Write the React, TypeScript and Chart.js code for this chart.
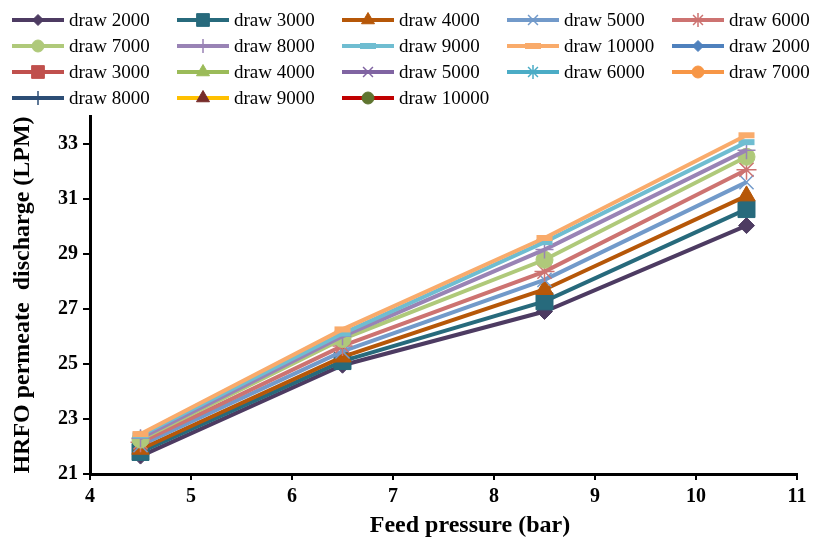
import { useEffect, useRef } from 'react';
import { Chart, registerables } from 'chart.js';
import { drawPoint } from 'chart.js/helpers';

Chart.register(...registerables);

// ---- data ----
const pressure = [4.5, 6.5, 8.5, 10.5];
const draw2000 = [21.65, 24.95, 26.9, 30.02];
const draw3000 = [21.8, 25.1, 27.27, 30.62];
const draw4000 = [21.9, 25.25, 27.7, 31.1];
const draw5000 = [22.05, 25.45, 28.05, 31.6];
const draw6000 = [22.15, 25.65, 28.35, 32.05];
const draw7000 = [22.25, 25.9, 28.78, 32.52];
const draw8000 = [22.3, 26.0, 29.15, 32.76];
const draw9000 = [22.4, 26.1, 29.42, 33.05];
const draw10000 = [22.45, 26.25, 29.57, 33.3];
const emptySeries: number[] = [];

const seriesLabels = [
  'draw 2000', 'draw 3000', 'draw 4000', 'draw 5000', 'draw 6000',
  'draw 7000', 'draw 8000', 'draw 9000', 'draw 10000',
  'draw 2000', 'draw 3000', 'draw 4000', 'draw 5000', 'draw 6000',
  'draw 7000', 'draw 8000', 'draw 9000', 'draw 10000',
];
const seriesValues = [
  draw2000, draw3000, draw4000, draw5000, draw6000, draw7000, draw8000, draw9000, draw10000,
  emptySeries, emptySeries, emptySeries, emptySeries, emptySeries, emptySeries, emptySeries, emptySeries, emptySeries,
];
const yTickValues = [21, 23, 25, 27, 29, 31, 33];
const xTitle = 'Feed pressure (bar)';
const yTitle = 'HRFO permeate  discharge (LPM)';

// ---- styles ----
const lineColors = [
  '#4D3B62', '#276A7C', '#B65708', '#729ACA', '#CD7371', '#AFC97A', '#9983B5', '#6FBDD1', '#F9AB6B',
  '#4F81BD', '#C0504D', '#9BBB59', '#8064A2', '#4BACC6', '#F79646', '#2C4D75', '#FFC000', '#C00000',
];
const markerColors = [
  '#4D3B62', '#276A7C', '#B65708', '#729ACA', '#CD7371', '#AFC97A', '#9983B5', '#6FBDD1', '#F9AB6B',
  '#4F81BD', '#C0504D', '#9BBB59', '#8064A2', '#4BACC6', '#F79646', '#2C4D75', '#772C2A', '#5F7530',
];
const styles = [
  'rectRot', 'rect', 'triangle', 'crossRot', 'star', 'circle', 'cross', 'line', 'line',
  'rectRot', 'rect', 'triangle', 'crossRot', 'star', 'circle', 'cross', 'triangle', 'circle',
];
const radii = [8, 12, 10, 10, 10, 8.5, 9, 8, 8, 8, 12, 10, 10, 10, 8.5, 9, 10, 8.5];
const borderWidths = [1, 1, 1, 1.5, 1.5, 1, 1.5, 6, 6, 1, 1, 1, 1.5, 1.5, 1, 1.5, 1, 1];
const legendRadii = [5.5, 9, 7.5, 7, 7, 6, 7, 8, 8, 5.5, 9, 7.5, 7, 7, 6, 7, 7.5, 6];

const FONT = '"Liberation Serif", "Times New Roman", serif';

const gridLegend = {
  id: 'gridLegend',
  afterDraw(chart: any) {
    const ctx = chart.ctx;
    ctx.save();
    chart.data.datasets.forEach((ds: any, i: number) => {
      const col = i % 5;
      const row = Math.floor(i / 5);
      const x0 = 12 + col * 165;
      const y = 20 + row * 26;
      ctx.strokeStyle = ds.borderColor;
      ctx.lineWidth = 4;
      ctx.beginPath();
      ctx.moveTo(x0, y);
      ctx.lineTo(x0 + 52, y);
      ctx.stroke();
      ctx.fillStyle = ds.pointBackgroundColor;
      ctx.strokeStyle = ds.pointBorderColor;
      ctx.lineWidth = borderWidths[i];
      drawPoint(ctx, { pointStyle: styles[i], rotation: 0, radius: legendRadii[i], borderWidth: borderWidths[i] }, x0 + 26, y);
      ctx.fillStyle = '#000';
      ctx.font = '19px ' + FONT;
      ctx.textAlign = 'left';
      ctx.textBaseline = 'middle';
      ctx.fillText(ds.label, x0 + 57, y + 1);
    });
    // x axis title
    ctx.fillStyle = '#000';
    ctx.font = 'bold 24px ' + FONT;
    ctx.textAlign = 'center';
    ctx.textBaseline = 'middle';
    ctx.fillText(xTitle, 470, 526);
    ctx.restore();
  },
};

export default function App() {
  const ref = useRef<HTMLCanvasElement | null>(null);
  useEffect(() => {
    if (!ref.current) return;
    const datasets = seriesLabels.map((label, i) => ({
      label,
      data: seriesValues[i].map((v, j) => ({ x: pressure[j], y: v })),
      borderColor: lineColors[i],
      backgroundColor: markerColors[i],
      pointBackgroundColor: markerColors[i],
      pointBorderColor: markerColors[i],
      pointStyle: styles[i],
      pointRadius: radii[i],
      pointBorderWidth: borderWidths[i],
      borderWidth: 4,
      tension: 0,
      fill: false,
      order: 100 - i,
    }));
    const tickFont = { family: FONT, size: 20, weight: 'bold' as const };
    const chart = new Chart(ref.current, {
      type: 'line',
      data: { datasets },
      plugins: [gridLegend],
      options: {
        responsive: false,
        animation: false,
        devicePixelRatio: 1,
        layout: { padding: { top: 116, right: 16, left: 0, bottom: 0 } },
        plugins: { legend: { display: false }, tooltip: { enabled: false } },
        scales: {
          x: {
            type: 'linear',
            min: 4,
            max: 11,
            ticks: { stepSize: 1, font: tickFont, color: '#000', padding: 5 },
            grid: { drawOnChartArea: false, drawTicks: true, tickLength: 6, color: '#000', lineWidth: 2 },
            border: { display: true, color: '#000', width: 3 },
            title: { display: false },
            afterFit: (s: any) => { s.height = 64; },
          },
          y: {
            type: 'linear',
            min: 21,
            max: 34,
            afterBuildTicks: (s: any) => { s.ticks = yTickValues.map((v) => ({ value: v })); },
            ticks: { font: tickFont, color: '#000', padding: 5 },
            grid: { drawOnChartArea: false, drawTicks: true, tickLength: 7, color: '#000', lineWidth: 2 },
            border: { display: true, color: '#000', width: 3 },
            title: {
              display: true,
              text: yTitle,
              font: { family: FONT, size: 24, weight: 'bold' },
              color: '#000',
              padding: { top: 8, bottom: 0 },
            },
            afterFit: (s: any) => { s.width = 90; },
          },
        },
      },
    } as any);
    return () => chart.destroy();
  }, []);
  return (
    <div style={{ position: 'absolute', left: 0, top: 0, width: 813, height: 538, background: '#fff' }}>
      <canvas ref={ref} width={813} height={538} />
    </div>
  );
}
